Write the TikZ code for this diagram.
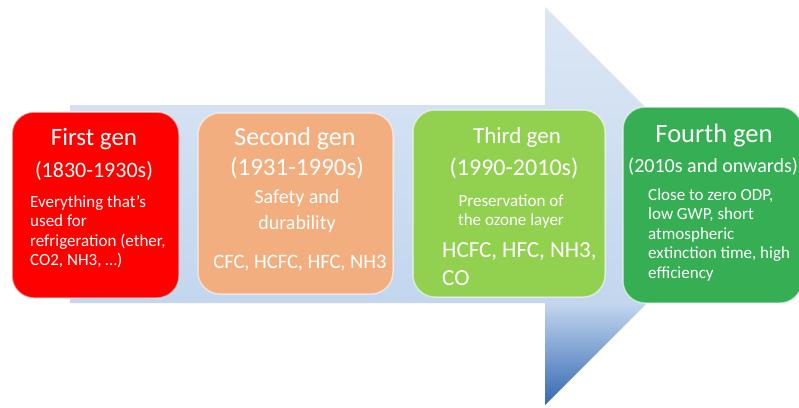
\documentclass[tikz,border=0pt]{standalone}
\usepackage{fontspec}
\setmainfont{Carlito}
\definecolor{redbox}{HTML}{FF0000}
\definecolor{orangebox}{HTML}{F2AE7E}
\definecolor{lgreenbox}{HTML}{92D050}
\definecolor{dgreenbox}{HTML}{36AE54}
\definecolor{arrA}{HTML}{3468B2}
\definecolor{arrB}{HTML}{C2D6EE}
\definecolor{arrC}{HTML}{DCE7F5}
\pgfdeclareverticalshading{arrowshade}{100bp}{color(0bp)=(arrA); color(25bp)=(arrA); color(37.75bp)=(arrB); color(75bp)=(arrC); color(100bp)=(arrC)}
\newcommand{\fsz}[2]{\fontsize{#1}{#2}\selectfont}
\begin{document}
\begin{tikzpicture}[x=1pt,y=-1pt,
  genbox/.style={rounded corners=22pt, draw=white, draw opacity=0.55, line width=1.5pt, inner sep=0pt},
  txt/.style={text=white, inner sep=0pt, anchor=base},
  txtl/.style={text=white, inner sep=0pt, anchor=base west, align=left},
  txtc/.style={text=white, inner sep=0pt, anchor=base, align=center}]
\useasboundingbox (0,0) rectangle (799,407);
\clip (0,0) rectangle (799,407);
\fill[white] (0,0) rectangle (799,407);
% big arrow
\shade[shading=arrowshade] (70,105) -- (545,105) -- (545,7) -- (744,206) -- (545,405) -- (545,303) -- (70,303) -- cycle;
% boxes
\node[genbox, fill=redbox, minimum width=167pt, minimum height=186pt] (b1) at (95.5,205) {};
\node[genbox, fill=orangebox, minimum width=195pt, minimum height=181pt] (b2) at (295.5,203.5) {};
\node[genbox, fill=lgreenbox, minimum width=192pt, minimum height=187pt] (b3) at (509,203.5) {};
\node[genbox, fill=dgreenbox, minimum width=179pt, minimum height=196pt] (b4) at (712.5,205) {};
% box 1 (multi-line nodes: base anchor = last line)
\node[txt, font=\fsz{25}{30}] (t1) at (94,145) {First gen};
\node[txt, font=\fsz{22}{26}] (y1) at (94,177) {(1830-1930s)};
\node[txtl, font=\fsz{17}{19.5}] (d1) at (30,265.5) {Everything that's\\used for\\refrigeration (ether,\\CO2, NH3, \dots)};
% box 2
\node[txt, font=\fsz{26}{30}] (t2) at (295,145) {Second gen};
\node[txt, font=\fsz{25}{30}] (y2) at (297,175) {(1931-1990s)};
\node[txtc, font=\fsz{20}{26}] (d2) at (297,229) {Safety and\\durability};
\node[txt, font=\fsz{20.5}{24}] (g2) at (300,268) {CFC, HCFC, HFC, NH3};
% box 3
\node[txt, font=\fsz{23}{30}] (t3) at (517,143) {Third gen};
\node[txt, font=\fsz{24}{30}] (y3) at (514,175) {(1990-2010s)};
\node[txtc, font=\fsz{17}{19}] (d3) at (511,225) {Preservation of\\the ozone layer};
\node[txtl, font=\fsz{23}{28}] (g3) at (442,285) {HCFC, HFC, NH3,\\CO};
% box 4
\node[txt, font=\fsz{26.5}{30}] (t4) at (714,142) {Fourth gen};
\node[txt, anchor=base west, font=\fsz{20}{24}] (y4) at (628,172) {(2010s and onwards)};
\node[txtl, font=\fsz{17}{19.5}] (d4) at (648,278) {Close to zero ODP,\\low GWP, short\\atmospheric\\extinction time, high\\efficiency};
\end{tikzpicture}
\end{document}
